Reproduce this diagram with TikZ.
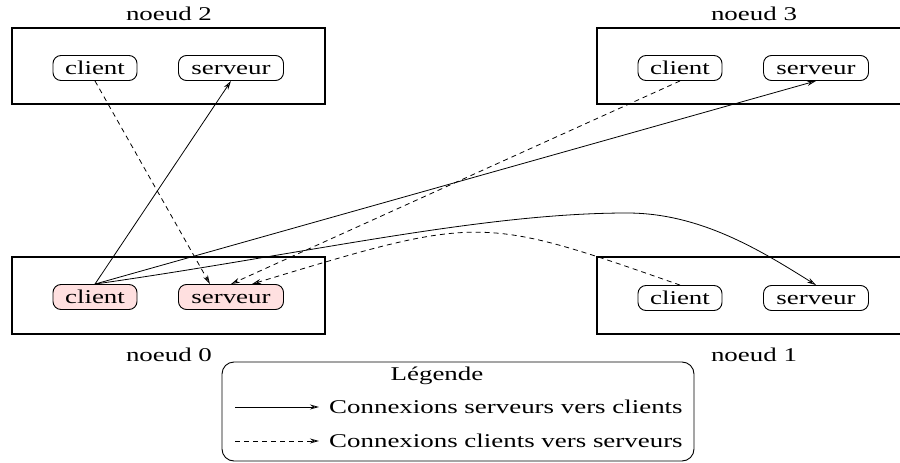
\documentclass[tikz,border=0pt]{standalone}
\usepackage{fontspec}
\setmainfont{Liberation Serif}[FakeStretch=1.38]
\usetikzlibrary{arrows.meta}
\definecolor{mypink}{RGB}{255,224,224}

\begin{document}
\begin{tikzpicture}[x=1pt,y=-1pt,
  every node/.style={font=\fontsize{19.5}{23}\selectfont},
  proc/.style={draw, rounded corners=8pt, minimum height=25pt, inner sep=0pt,
    text height=16pt, text depth=3pt, line width=0.9pt},
  cli/.style={proc, minimum width=84pt},
  srv/.style={proc, minimum width=105pt},
  local/.style={fill=mypink},
  hostbox/.style={draw, line width=1.1pt},
  conn/.style={-{Stealth[open,length=9pt,width=5pt]}, line width=0.8pt},
  dashconn/.style={conn, dash pattern=on 5pt off 4pt}]

 \useasboundingbox (0,0) rectangle (900,463);

 % machines
 \draw[hostbox] (12,28) rectangle (325,104);
 \draw[hostbox] (597,28) rectangle (910,104);
 \draw[hostbox] (12,257) rectangle (325,334);
 \draw[hostbox] (597,257) rectangle (910,334);

 \node (n2) at (169,14) {noeud 2};
 \node (n3) at (754,14) {noeud 3};
 \node (n0) at (169,355) {noeud 0};
 \node (n1) at (754,355) {noeud 1};

 % processes
 \node[cli] (c2) at (95,68) {client};
 \node[srv] (s2) at (231,68) {serveur};
 \node[cli] (c3) at (680,68) {client};
 \node[srv] (s3) at (816,68) {serveur};
 \node[cli,local] (c0) at (95,297) {client};
 \node[srv,local] (s0) at (231,297) {serveur};
 \node[cli] (c1) at (680,298) {client};
 \node[srv] (s1) at (816,298) {serveur};

 \coordinate (top) at (627,213); %peak of the long curve

 % server -> client
 \draw[conn] (c0.north) -- (s2.south);
 \draw[conn] (c0.north) -- (s3.south);
 \draw[conn] (c0.north) .. controls (300,255) and (480,213) .. (top)
   .. controls (700,213) and (760,250) .. (s1.north);

 % client -> server
 \draw[dashconn] (c2.south) -- ([xshift=-21pt]s0.north);
 \draw[dashconn] (c3.south) -- (s0.north);
 \draw[dashconn] (c1.north) .. controls (480,215) and (480,215) .. ([xshift=21pt]s0.north);

 % legend
 \draw[line width=0.9pt, rounded corners=12pt] (222,362) rectangle (694,461);
 \node (leg) at (437,376) {Légende};
 \coordinate (l1a) at (235,407);
 \coordinate (l1b) at (319,407);
 \coordinate (l2a) at (235,441);
 \coordinate (l2b) at (319,441);
 \draw[conn] (l1a) -- (l1b);
 \draw[dashconn] (l2a) -- (l2b);
 \node[anchor=west, inner sep=0pt] (t1) at (329,407) {Connexions serveurs vers clients};
 \node[anchor=west, inner sep=0pt] (t2) at (329,441) {Connexions clients vers serveurs};

\end{tikzpicture}
\end{document}
